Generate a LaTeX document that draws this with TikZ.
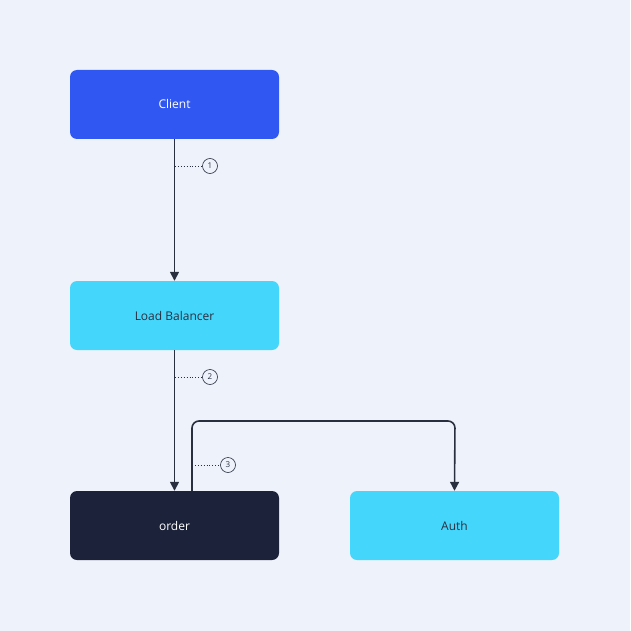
\documentclass[tikz,border=0pt]{standalone}
\usepackage{fontspec}
\setmainfont{Open Sans}
\usetikzlibrary{arrows.meta}
\definecolor{bg}{HTML}{EEF3FB}
\definecolor{blue1}{HTML}{3057F2}
\definecolor{cyan1}{HTML}{45D7FB}
\definecolor{dark1}{HTML}{1C2239}
\definecolor{ln}{HTML}{2A2F40}
\begin{document}
\begin{tikzpicture}[x=1pt,y=-1pt,
  box/.style={rectangle,rounded corners=7pt,minimum width=209pt,minimum height=69pt,inner sep=0,font=\fontsize{12}{14}\selectfont},
  arr/.style={draw=ln,line width=1.6pt,-{Triangle[length=9pt,width=9pt]}},
  tag/.style={circle,draw=ln,line width=0.6pt,minimum size=15pt,inner sep=0,font=\fontsize{8}{9}\selectfont,text=ln},
  dot/.style={draw=ln,line width=0.9pt,dotted}]
\fill[bg] (0,0) rectangle (630,631);
\useasboundingbox (0,0) rectangle (630,631);
\node[box,fill=blue1,text=white] (client) at (174.5,104.5) {Client};
\node[box,fill=cyan1,text=ln] (lb) at (174.5,315.5) {Load Balancer};
\node[box,fill=dark1,text=white] (order) at (174.5,525.5) {order};
\node[box,fill=cyan1,text=ln] (auth) at (454.5,525.5) {Auth};
\draw[arr] (client.south) -- (lb.north);
\draw[arr] (lb.south) -- (order.north);
\coordinate (os) at (192,491);
\draw[arr,rounded corners=7pt] (os) -- (192,421) -- (455,421) -- (auth.north);
\node[tag] (t1) at (210,166) {1};
\node[tag] (t2) at (210,377) {2};
\node[tag] (t3) at (228,465) {3};
\coordinate (d1) at (175,166);
\coordinate (d2) at (175,377);
\coordinate (d3) at (192,465);
\draw[dot] (d1) -- (t1.west);
\draw[dot] (d2) -- (t2.west);
\draw[dot] (d3) -- (t3.west);
\end{tikzpicture}
\end{document}
